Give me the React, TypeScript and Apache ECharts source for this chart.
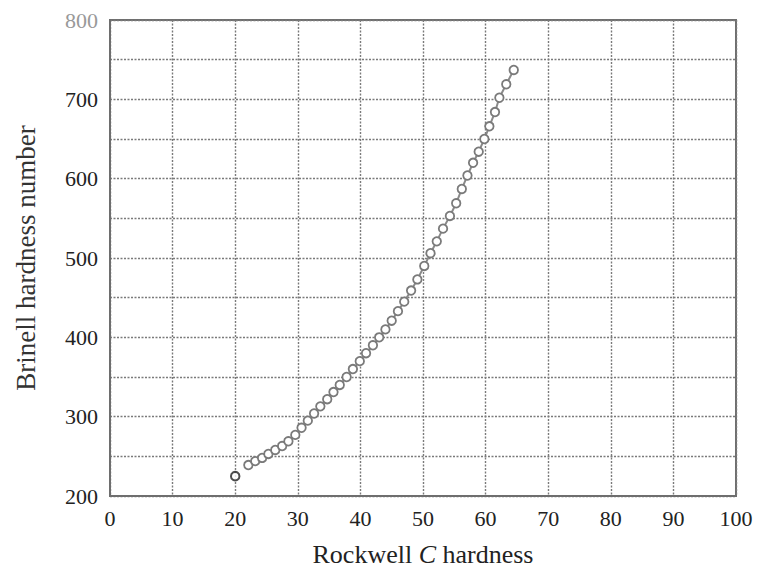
import React, { useEffect, useRef } from "react";
import * as echarts from "echarts";

// Rockwell C hardness (x) and Brinell hardness number (y)
const rockwellC = [
  22.1, 23.2, 24.3, 25.3, 26.4, 27.5, 28.5, 29.6, 30.6, 31.6, 32.6, 33.6, 34.7, 35.7,
  36.7, 37.8, 38.8, 39.9, 40.9, 42.0, 43.0, 44.0, 45.0, 46.0, 47.0, 48.1, 49.1, 50.2,
  51.2, 52.2, 53.2, 54.3, 55.3, 56.2, 57.1, 58.0, 58.9, 59.8, 60.6, 61.5, 62.2, 63.3, 64.5,
];
const brinell = [
  239, 244, 248, 253, 258, 263, 269, 277, 286, 295, 304, 313, 322, 331,
  340, 350, 360, 370, 380, 390, 400, 410, 421, 433, 445, 459, 473, 490,
  506, 521, 537, 553, 569, 587, 604, 620, 634, 650, 666, 684, 702, 719, 737,
];
// isolated point at the start
const startX = [20];
const startY = [225];

const xMin = 0;
const xMax = 100;
const xStep = 10;
const yMin = 200;
const yMax = 800;
const yStep = 50;
const yLabelStep = 100;

const xTitle = "Rockwell {i|C} hardness";
const yTitle = "Brinell hardness number";

export default function App() {
  const ref = useRef<HTMLDivElement>(null);

  useEffect(() => {
    if (!ref.current) return;
    const chart = echarts.init(ref.current, undefined, { renderer: "svg" });
    const font = "'Liberation Serif', 'Times New Roman', serif";
    const gridLine = { show: true, lineStyle: { color: "#7a7a7a", width: 1.4, type: [2, 1.5] as any } };
    chart.setOption({
      animation: false,
      backgroundColor: "#fff",
      grid: {
        left: 110,
        right: 26,
        top: 20,
        bottom: 82,
        show: true,
        borderColor: "#6e6e6e",
        borderWidth: 2,
        backgroundColor: "transparent",
      },
      xAxis: {
        type: "value",
        min: xMin,
        max: xMax,
        interval: xStep,
        axisLine: { show: true, lineStyle: { color: "#6e6e6e", width: 2 } },
        axisTick: { show: false },
        splitLine: gridLine,
        axisLabel: { color: "#222", fontFamily: font, fontSize: 22, margin: 11 },
        name: xTitle,
        nameLocation: "middle",
        nameGap: 45,
        nameTextStyle: {
          color: "#222",
          fontFamily: font,
          fontSize: 26,
          rich: {
            i: { fontStyle: "italic", color: "#222", fontFamily: font, fontSize: 26 },
          },
        },
      },
      yAxis: {
        type: "value",
        min: yMin,
        max: yMax,
        interval: yStep,
        axisLine: { show: true, lineStyle: { color: "#6e6e6e", width: 2 } },
        axisTick: { show: false },
        splitLine: gridLine,
        axisLabel: {
          fontFamily: font,
          fontSize: 22,
          margin: 12,
          color: (v: any) => (Number(v) === yMax ? "#999" : "#222"),
          formatter: (v: number) => (v % yLabelStep === 0 ? String(v) : ""),
        },
        name: yTitle,
        nameLocation: "middle",
        nameGap: 71,
        nameTextStyle: { color: "#333", fontFamily: font, fontSize: 27 },
      },
      series: [
        {
          type: "line",
          data: rockwellC.map((x, i) => [x, brinell[i]]),
          symbol: "circle",
          symbolSize: 8.5,
          showSymbol: true,
          lineStyle: { color: "#8a8a8a", width: 2 },
          itemStyle: { color: "#fff", borderColor: "#7a7a7a", borderWidth: 1.8 },
          z: 3,
        },
        {
          type: "scatter",
          data: startX.map((x, i) => [x, startY[i]]),
          symbol: "circle",
          symbolSize: 8.5,
          itemStyle: { color: "#fff", borderColor: "#222", borderWidth: 2 },
          z: 4,
        },
      ],
    });
    return () => chart.dispose();
  }, []);

  return (
    <div
      ref={ref}
      style={{ position: "fixed", left: 0, top: 0, width: 762, height: 578, background: "#fff" }}
    />
  );
}
